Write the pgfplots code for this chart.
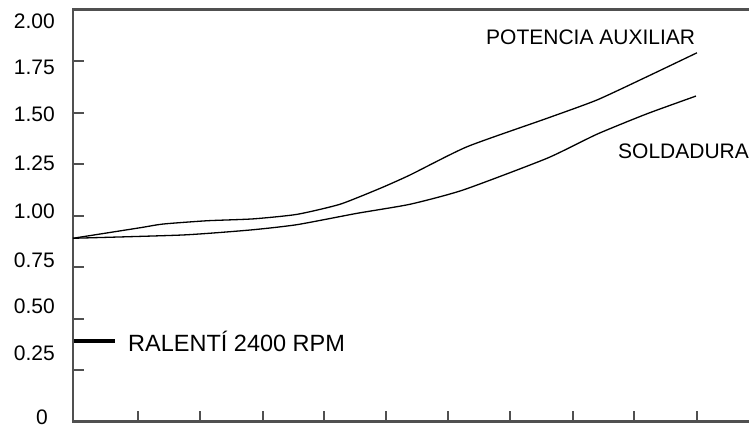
\documentclass[border=0pt]{standalone}
\usepackage{fontspec}
\setmainfont{Liberation Sans}
\usepackage{pgfplots}
\pgfplotsset{compat=1.18}
\definecolor{axgray}{HTML}{505050}
\begin{document}
\begin{tikzpicture}
\useasboundingbox (-73bp,-6.3bp) rectangle (676bp,421.7bp);
\begin{axis}[
  at={(0,0)}, anchor=south west,
  scale only axis, width=690bp, height=412.2bp,
  xmin=0, xmax=690, ymin=0, ymax=2,
  clip=false,
  axis line style={line width=2.4bp, color=axgray},
  tick align=inside,
  xtick pos=bottom, ytick pos=left,
  major tick length=11bp,
  tick style={line width=2bp, color=axgray},
  xtick={65.5,127,190,251,313,375,437.5,499.6,561,624},
  xticklabels={},
  ytick={0.25,0.5,0.75,1,1.25,1.5,1.75},
  yticklabels={},
  extra y ticks={1.941,1.719,1.490,1.254,1.019,0.785,0.558,0.332,0.022},
  extra y tick labels={2.00,1.75,1.50,1.25,1.00,0.75,0.50,0.25,0\hspace*{7bp}},
  extra y tick style={major tick length=0pt, tick style={draw=none},
    yticklabel style={anchor=east, inner sep=0pt, xshift=-18bp,
      font=\fontsize{21bp}{21bp}\selectfont}},
]
% POTENCIA AUXILIAR
\addplot[black, line width=1.3bp, smooth, tension=0.35] coordinates {
(0,0.890) (67,0.941) (90,0.959) (134,0.975) (180,0.984) (224,1.006)
(267,1.055) (307,1.132) (337,1.197) (394,1.334)
(474,1.472) (524,1.561) (574,1.674) (624,1.790)};
% SOLDADURA
\addplot[black, line width=1.3bp, smooth, tension=0.35] coordinates {
(0,0.890) (110,0.906) (177,0.930) (224,0.956) (284,1.011)
(337,1.055) (390,1.124) (474,1.278) (524,1.395) (574,1.494) (623,1.580)};
% RALENTI
\addplot[black, line width=4bp] coordinates {(1,0.390) (42,0.390)};
\node[anchor=base west, inner sep=0pt, font=\fontsize{21bp}{21bp}\selectfont] at (axis cs:413,1.831) {POTENCIA AUXILIAR};
\node[anchor=base west, inner sep=0pt, font=\fontsize{21bp}{21bp}\selectfont] at (axis cs:545,1.275) {SOLDADURA};
\node[anchor=base west, inner sep=0pt, font=\fontsize{23.5bp}{23.5bp}\selectfont] at (axis cs:55,0.340) {RALENTÍ 2400 RPM};
\end{axis}
\end{tikzpicture}
\end{document}
